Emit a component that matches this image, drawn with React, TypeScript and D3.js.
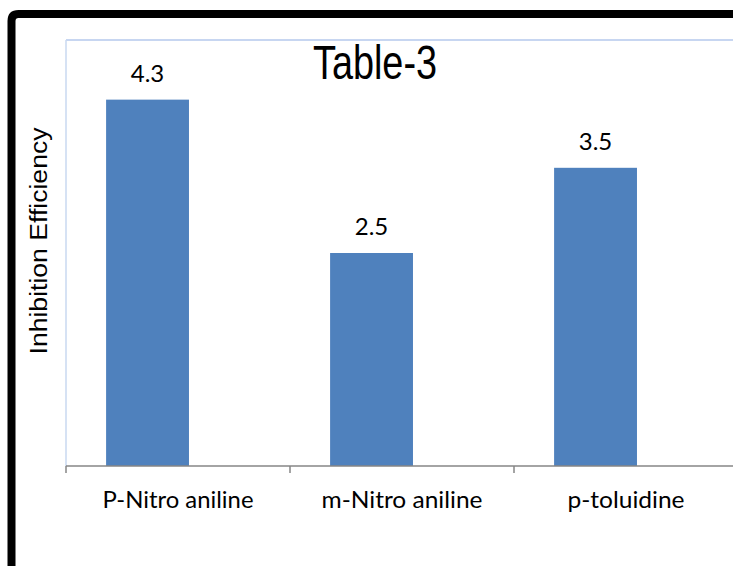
import React from "react";
import * as d3 from "d3";

const categories: string[] = ["P-Nitro aniline", "m-Nitro aniline", "p-toluidine"];
const values: number[] = [4.3, 2.5, 3.5];
const valueLabels: string[] = ["4.3", "2.5", "3.5"];
const labelWidths: number[] = [151, 161, 117];
const yDomain: [number, number] = [0, 5];
const title = "Table-3";
const yTitle = "Inhibition Efficiency";

const W = 733;
const H = 566;
const plotLeft = 66;
const plotRight = 738;
const plotTop = 40;
const plotBottom = 466;

export default function App() {
  const x = d3.scaleBand<string>().domain(categories).range([plotLeft, plotRight]).padding(0);
  const y = d3.scaleLinear().domain(yDomain).range([plotBottom, plotTop]);
  const bw = x.bandwidth();
  const barOffset = bw * 0.179;
  const barW = bw * 0.37;
  const ticks = [...categories.map((c) => x(c) as number), plotRight];

  return (
    <svg
      width={W}
      height={H}
      viewBox={`0 0 ${W} ${H}`}
      style={{ position: "absolute", left: 0, top: 0, background: "#fff" }}
    >
      <rect x={0} y={0} width={W} height={H} fill="#fff" />
      {/* outer frame (only left and top edges visible) */}
      <path d={`M11.5,${H + 10} L11.5,21 Q11.5,14 18.5,14 L${W + 10},14`} fill="none" stroke="#000" strokeWidth={8} />
      {/* plot area border (top & left) */}
      <line x1={plotLeft} x2={W} y1={plotTop} y2={plotTop} stroke="#b4c9ec" strokeWidth={1.5} />
      <line x1={plotLeft} x2={plotLeft} y1={plotTop} y2={plotBottom} stroke="#c9d8f0" strokeWidth={1.5} />
      {/* bars */}
      {categories.map((c, i) => (
        <rect
          key={c}
          x={(x(c) as number) + barOffset}
          y={y(values[i])}
          width={barW}
          height={y(0) - y(values[i])}
          fill="#4f81bd"
        />
      ))}
      {/* value labels */}
      {categories.map((c, i) => (
        <text
          key={c + "v"}
          x={(x(c) as number) + barOffset + barW / 2}
          y={y(values[i]) - 18}
          textAnchor="middle"
          fontFamily="Lato, 'Open Sans', sans-serif"
          fontSize={24}
          fill="#000"
        >
          {valueLabels[i]}
        </text>
      ))}
      {/* x axis */}
      <line x1={plotLeft} x2={W} y1={plotBottom} y2={plotBottom} stroke="#868686" strokeWidth={1.5} />
      {ticks.map((t, i) => (
        <line key={"t" + i} x1={t} x2={t} y1={plotBottom} y2={plotBottom + 7} stroke="#868686" strokeWidth={1.5} />
      ))}
      {categories.map((c, i) => (
        <text
          key={c + "l"}
          x={(x(c) as number) + bw / 2}
          y={508}
          textAnchor="middle"
          fontFamily="Lato, 'Open Sans', sans-serif"
          fontSize={24}
          textLength={labelWidths[i]}
          lengthAdjust="spacingAndGlyphs"
          fill="#000"
        >
          {c}
        </text>
      ))}
      {/* title */}
      <text
        x={375}
        y={79}
        textAnchor="middle"
        fontFamily="'Liberation Sans', Arial, sans-serif"
        fontSize={48}
        textLength={124}
        lengthAdjust="spacingAndGlyphs"
        fill="#000"
      >
        {title}
      </text>
      {/* y axis title */}
      <text
        transform={`translate(47, 241) rotate(-90)`}
        textAnchor="middle"
        fontFamily="'Liberation Sans', Arial, sans-serif"
        fontSize={23}
        textLength={227}
        lengthAdjust="spacingAndGlyphs"
        fill="#000"
      >
        {yTitle}
      </text>
    </svg>
  );
}
